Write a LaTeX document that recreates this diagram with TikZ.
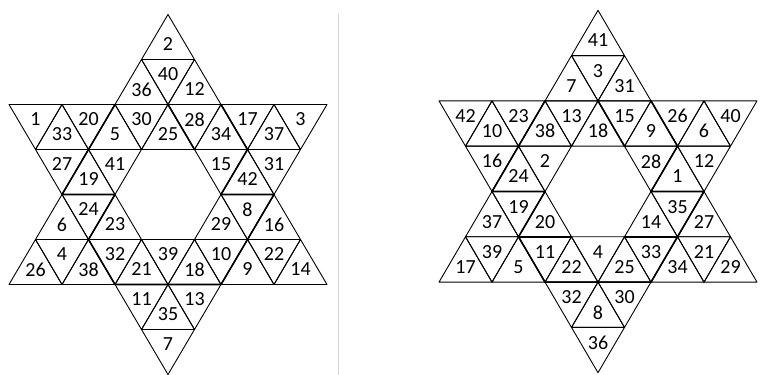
\documentclass[tikz,border=0pt]{standalone}
\usepackage{fontspec}
\setmainfont{Carlito}
\usepackage{tikz}

\begin{document}
\begin{tikzpicture}[
    tri/.style={draw=black, line width=0.9pt, line join=round},
    thickedge/.style={draw=black, line width=1.6pt, line join=round, line cap=round},
    num/.style={font=\fontsize{20}{20}\selectfont, inner sep=0pt, text=black},
    sep/.style={draw=black!16, line width=0.7pt}
  ]
  \useasboundingbox (0,0) rectangle (761pt,375pt);

  % left star
  \begin{scope}[x=26.5pt, y=45pt, shift={(168pt,180.5pt)}]
    % upward triangles, given by their apex
    \foreach \a/\j/\n in {0/4/2, -1/3/36, 1/3/12,
        -4/2/33, -2/2/5, 0/2/25, 2/2/34, 4/2/37,
        -3/1/19, 3/1/42, -4/0/6, -2/0/23, 2/0/29, 4/0/16,
        -5/-1/26, -3/-1/38, -1/-1/21, 1/-1/18, 3/-1/9, 5/-1/14,
        0/-2/35} {
      \draw[tri] (\a,\j) -- ++(-1,-1) -- ++(2,0) -- cycle;
      \node[num] (l\n) at (\a,\j-2/3) {\n};
    }
    % downward triangles, given by their apex
    \foreach \a/\j/\n in {0/2/40,
        -5/1/1, -3/1/20, -1/1/30, 1/1/28, 3/1/17, 5/1/3,
        -4/0/27, -2/0/41, 2/0/15, 4/0/31, -3/-1/24, 3/-1/8,
        -4/-2/4, -2/-2/32, 0/-2/39, 2/-2/10, 4/-2/22,
        -1/-3/11, 1/-3/13, 0/-4/7} {
      \draw[tri] (\a,\j) -- ++(-1,1) -- ++(2,0) -- cycle;
      \node[num] (l\n) at (\a,\j+2/3) {\n};
    }
    \draw[thickedge] (-2,2) -- (-3,1) -- (-4,0) -- (-2,0) -- (-3,-1) -- (-2,-2)
      -- (2,-2) -- (3,-1) -- (4,0) -- (2,0) -- (3,1) -- (2,2);
    \draw[thickedge] (-3,-1) -- (-1,-1);
    \draw[thickedge] (1,-1) -- (3,-1);
    \draw[thickedge] (0,2) -- (1,1);
  \end{scope}

  \draw[sep] (338pt,0pt) -- (338pt,362pt);

  % right star
  \begin{scope}[x=26.5pt, y=45.3pt, shift={(598pt,183.5pt)}]
    \foreach \a/\j/\n in {0/4/41, -1/3/7, 1/3/31,
        -4/2/10, -2/2/38, 0/2/18, 2/2/9, 4/2/6,
        -3/1/24, 3/1/1, -4/0/37, -2/0/20, 2/0/14, 4/0/27,
        -5/-1/17, -3/-1/5, -1/-1/22, 1/-1/25, 3/-1/34, 5/-1/29,
        0/-2/8} {
      \draw[tri] (\a,\j) -- ++(-1,-1) -- ++(2,0) -- cycle;
      \node[num] (r\n) at (\a,\j-2/3) {\n};
    }
    \foreach \a/\j/\n in {0/2/3,
        -5/1/42, -3/1/23, -1/1/13, 1/1/15, 3/1/26, 5/1/40,
        -4/0/16, -2/0/2, 2/0/28, 4/0/12, -3/-1/19, 3/-1/35,
        -4/-2/39, -2/-2/11, 0/-2/4, 2/-2/33, 4/-2/21,
        -1/-3/32, 1/-3/30, 0/-4/36} {
      \draw[tri] (\a,\j) -- ++(-1,1) -- ++(2,0) -- cycle;
      \node[num] (r\n) at (\a,\j+2/3) {\n};
    }
    \draw[thickedge] (-2,2) -- (-3,1) -- (-4,0) -- (-2,0) -- (-3,-1) -- (-2,-2)
      -- (2,-2) -- (3,-1) -- (4,0) -- (2,0) -- (3,1) -- (2,2);
    \draw[thickedge] (-3,-1) -- (-1,-1);
    \draw[thickedge] (1,-1) -- (3,-1);
    \draw[thickedge] (0,2) -- (1,1);
  \end{scope}
\end{tikzpicture}
\end{document}
